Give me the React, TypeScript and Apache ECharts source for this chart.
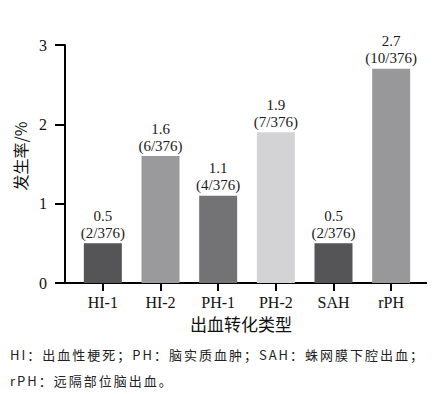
import React, { useEffect, useRef } from "react";
import * as echarts from "echarts";

const categories = ["HI-1", "HI-2", "PH-1", "PH-2", "SAH", "rPH"];
const rates = [0.5, 1.6, 1.1, 1.9, 0.5, 2.7];
const counts = ["2/376", "6/376", "4/376", "7/376", "2/376", "10/376"];
const barColors = ["#555557", "#9a9a9c", "#737375", "#d3d3d5", "#555557", "#98989a"];
const yTicks = [0, 1, 2, 3];
const xName = "出血转化类型";
const yName = "发生率/%";
const footLines = [
  "HI：出血性梗死；PH：脑实质血肿；SAH：蛛网膜下腔出血；",
  "rPH：远隔部位脑出血。",
];

export default function App() {
  const ref = useRef<HTMLDivElement>(null);
  useEffect(() => {
    document.body.style.margin = "0";
    const chart = echarts.init(ref.current!, undefined, { renderer: "svg" });
    const serif = "'Liberation Serif', 'Times New Roman', serif";
    chart.setOption({
      animation: false,
      grid: { left: 74, right: 26, top: 45, bottom: 111 },
      xAxis: {
        type: "category",
        data: categories,
        axisLine: { show: false },
        axisTick: { show: true, alignWithLabel: true, length: 8, lineStyle: { color: "#000", width: 2 } },
        axisLabel: { fontFamily: serif, fontSize: 16, color: "#111", margin: 11 },
        name: xName,
        nameLocation: "middle",
        nameGap: 32,
        nameTextStyle: { fontFamily: "'Noto Sans CJK SC', sans-serif", fontSize: 17, color: "#111", padding: [0, 12, 0, 0] },
      },
      yAxis: {
        type: "value",
        min: yTicks[0],
        max: yTicks[yTicks.length - 1],
        interval: 1,
        offset: 9,
        splitLine: { show: false },
        axisLine: { show: true, lineStyle: { color: "#000", width: 2 } },
        axisTick: { show: true, length: 10, lineStyle: { color: "#000", width: 2 } },
        axisLabel: { fontFamily: serif, fontSize: 16, color: "#111", margin: 18 },
        name: yName,
        nameLocation: "middle",
        nameGap: 37,
        nameTextStyle: { fontFamily: "'Noto Sans CJK SC', sans-serif", fontSize: 16, color: "#111", padding: [0, 0, 0, 16] },
      },
      graphic: [
        { type: "line", shape: { x1: 55, y1: 283, x2: 427, y2: 283 }, style: { stroke: "#000", lineWidth: 2 } },
      ],
      series: [
        {
          type: "bar",
          barWidth: 38,
          data: rates.map((v, i) => ({ value: v, itemStyle: { color: barColors[i] } })),
          label: {
            show: true,
            position: "top",
            distance: 2,
            fontFamily: serif,
            fontSize: 15,
            lineHeight: 17,
            color: "#1a1a22",
            formatter: (p: any) => `${rates[p.dataIndex]}\n(${counts[p.dataIndex]})`,
          },
        },
      ],
    });
    return () => chart.dispose();
  }, []);
  return (
    <div style={{ position: "relative", width: 446, height: 394 }}>
      <div ref={ref} style={{ width: 446, height: 394 }} />
      <div
        style={{
          position: "absolute",
          left: 10,
          top: 342,
          fontFamily: "'Noto Sans CJK SC', sans-serif",
          fontSize: 13,
          lineHeight: "26px",
          letterSpacing: "2px",
          color: "#222",
          whiteSpace: "nowrap",
        }}
      >
        {footLines.map((l, i) => (
          <div key={i}>{l}</div>
        ))}
      </div>
    </div>
  );
}
